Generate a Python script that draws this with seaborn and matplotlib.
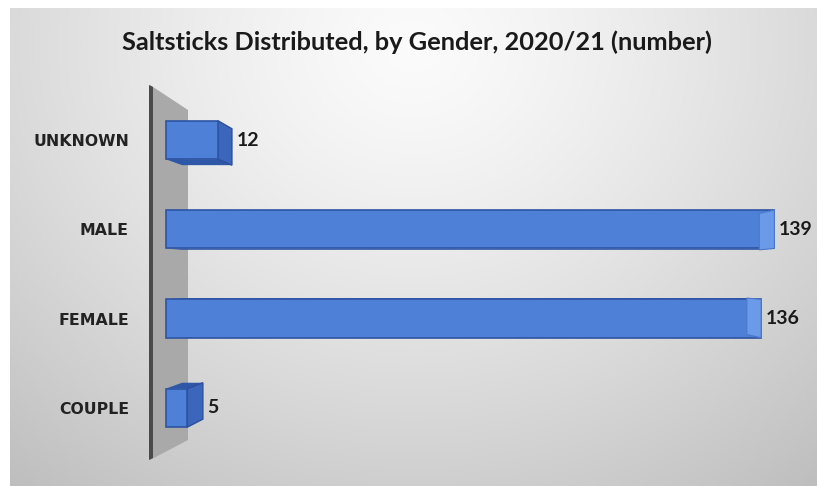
import numpy as np
import pandas as pd
import matplotlib
matplotlib.use("Agg")
import matplotlib.pyplot as plt
from matplotlib.patches import Polygon
import seaborn as sns

categories = ["UNKNOWN", "MALE", "FEMALE", "COUPLE"]
values = [12, 139, 136, 5]
title = "Saltsticks Distributed, by Gender, 2020/21 (number)"

df = pd.DataFrame({"category": categories, "value": values})

sns.set_theme(style="white")
W, H = 817, 486
fig = plt.figure(figsize=(W / 100, H / 100), dpi=100, facecolor="white")

# background panel with radial gradient
bg = fig.add_axes([10 / W, 0, (W - 10) / W, (H - 8) / H])
bg.set_axis_off()
yy, xx = np.mgrid[0:1:300j, 0:1:500j]
r = np.sqrt(((xx - 0.5) / 0.75) ** 2 + ((yy - 0.08) / 1.1) ** 2)
shade = 0.985 - 0.22 * np.clip(r, 0, 1.2) ** 1.3
bg.imshow(np.dstack([shade, shade, shade]), aspect="auto", extent=[0, 1, 1, 0],
          interpolation="bilinear")
bg.set_xlim(0, 1)
bg.set_ylim(1, 0)

# main axes, positioned in pixels
left_px, right_px, top_px, bot_px = 140, 805, 70, 478
ax = fig.add_axes([left_px / W, 1 - bot_px / H, (right_px - left_px) / W, (bot_px - top_px) / H])
ax.patch.set_alpha(0)

front = "#4f80d8"
sns.barplot(data=df, y="category", x="value", orient="h", color=front,
            saturation=1, width=0.43, ax=ax, zorder=3,
            edgecolor="#2e54a3", linewidth=1.2)

k = 4.38   # px per unit
x0 = 165.5  # px of zero
yc0, ysp = 140.0, 89.3
ax.set_xlim((left_px - x0) / k, (right_px - x0) / k)
ax.set_ylim((bot_px - yc0) / ysp, (top_px - yc0) / ysp)

def px2data(px, py):
    return ((px - x0) / k, (py - yc0) / ysp)

bars = [p for p in ax.patches]

# side wall
wall = [px2data(150, 85), px2data(188, 110), px2data(188, 440), px2data(150, 460)]
ax.add_patch(Polygon(wall, closed=True, facecolor="#a9a9a9", edgecolor="none", zorder=1))
ax.add_patch(Polygon([px2data(149, 85), px2data(153, 87), px2data(153, 458), px2data(149, 460)],
                     closed=True, facecolor="#4a4a4a", edgecolor="none", zorder=1.5))

V = np.array([72.9, 1.5])
t = 0.052
for p in bars:
    x_l = p.get_x()
    x_r = x_l + p.get_width()
    y_t = p.get_y()
    y_b = y_t + p.get_height()
    near = {"tl": np.array([x_l, y_t]), "tr": np.array([x_r, y_t]),
            "br": np.array([x_r, y_b]), "bl": np.array([x_l, y_b])}
    far = {kk: v + t * (V - v) for kk, v in near.items()}
    yc = (y_t + y_b) / 2
    # top / bottom face
    if yc < V[1]:
        face = [near["bl"], near["br"], far["br"], far["bl"]]
    else:
        face = [near["tl"], near["tr"], far["tr"], far["tl"]]
    ax.add_patch(Polygon(face, closed=True, facecolor="#2f57a8", edgecolor="none", zorder=2.5))
    side = [near["tr"], far["tr"], far["br"], near["br"]]
    if x_r < V[0]:
        ax.add_patch(Polygon(side, closed=True, facecolor="#3b66bb", edgecolor="#2b4f9c",
                             linewidth=1, zorder=2.6))
    else:
        ax.add_patch(Polygon(side, closed=True, facecolor="#6a9ae8", edgecolor="#4a78cc",
                             linewidth=0.8, zorder=3.5))
    # value label
    xe = max(x_r, far["tr"][0])
    ax.text(xe + 1.0, yc, f"{int(round(p.get_width()))}", va="center", ha="left",
            fontsize=14, fontweight="bold", family="Lato", color="#1a1a1a", zorder=5)

ax.set_xticks([])
ax.set_xlabel("")
ax.set_ylabel("")
ax.tick_params(axis="y", length=0, pad=8)
for lab in ax.get_yticklabels():
    lab.set_fontweight("bold")
    lab.set_fontsize(11.3)
    lab.set_family("DejaVu Sans")
    lab.set_color("#222222")
for s in ax.spines.values():
    s.set_visible(False)

fig.text(0.5 + 8 / W, 1 - 42 / H, title, ha="center", va="center", fontsize=18.3,
         fontweight="bold", family="Lato", color="#1a1a1a")

fig.savefig("out.png", dpi=100)
